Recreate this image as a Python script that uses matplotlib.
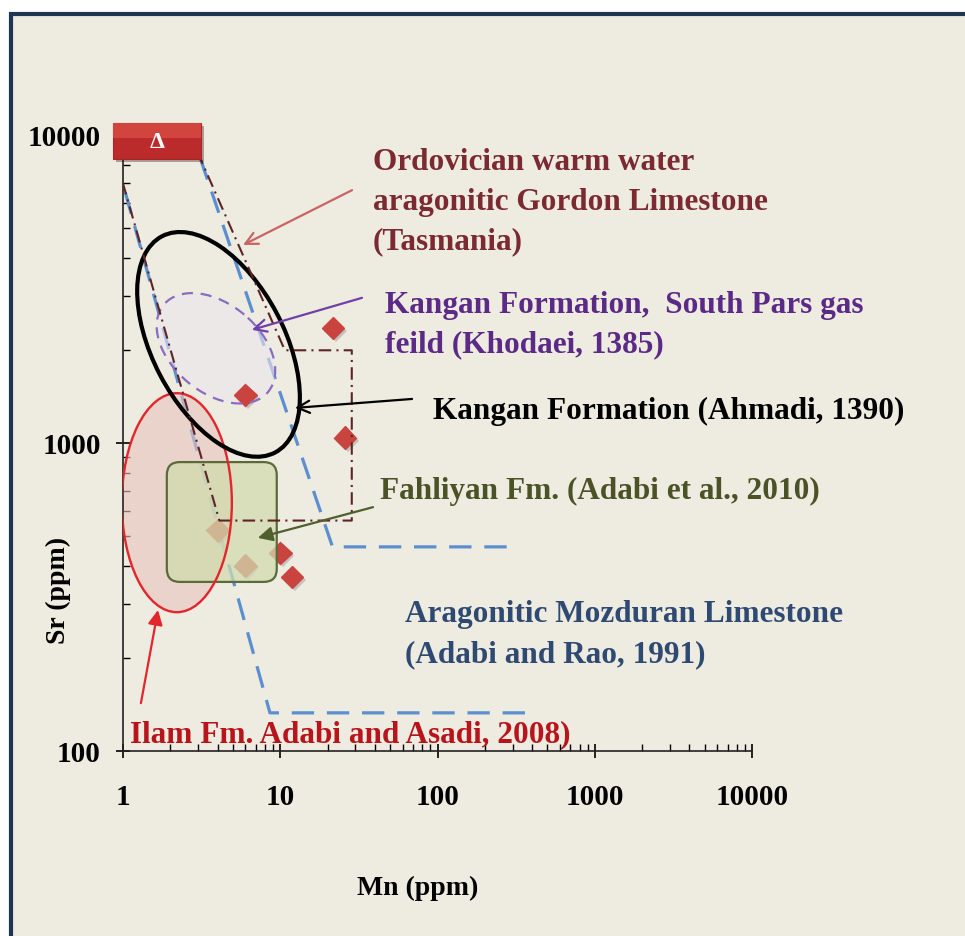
import matplotlib
matplotlib.use('Agg')
import matplotlib.pyplot as plt
import matplotlib.patheffects as pe
from matplotlib.patches import Ellipse, FancyBboxPatch, Rectangle
from matplotlib.transforms import ScaledTranslation

# Kangan Formation samples (this study)
mn_ppm = [21.6, 6.0, 25.8, 4.0, 6.0, 10.0, 11.9]
sr_ppm = [2360, 1430, 1040, 520, 400, 440, 367]

# Aragonitic Mozduran Limestone field, two open boundaries
mozduran_left_mn = [0.9, 8.6, 420]
mozduran_left_sr = [8400, 133, 133]
mozduran_right_mn = [3.1, 21.5, 300]
mozduran_right_sr = [8400, 460, 460]

# Ordovician Gordon Limestone field
gordon_mn = [0.9, 4.1, 28.5, 28.5, 10.7, 3.1]
gordon_sr = [8400, 560, 560, 2000, 2000, 8400]

# Fahliyan Fm. box (min, max)
fahliyan_mn = [1.9, 9.5]
fahliyan_sr = [354, 867]

# ellipse centres (Mn, Sr)
ilam_centre = (2.2, 640)
khodaei_centre = (3.9, 2030)
ahmadi_centre = (4.05, 2090)

x_ticks = [1, 10, 100, 1000, 10000]
y_ticks = [100, 1000, 10000]

bg = '#eeebe1'
blue = '#5b8fd0'
brown = '#5e2424'

plt.rcParams['font.family'] = ['Liberation Serif', 'DejaVu Serif']
plt.rcParams['font.weight'] = 'bold'

fig = plt.figure(figsize=(9.65, 9.36), dpi=100, facecolor='white')
# panel background with navy frame
fig.patches.append(Rectangle((11 / 965, -0.1), 1.2, (936 - 14.5) / 936 + 0.1,
                             transform=fig.transFigure, facecolor=bg,
                             edgecolor='#1f3552', linewidth=3, zorder=-5))

ax = fig.add_axes([123 / 965, (936 - 751) / 936, 629 / 965, 616 / 936])
ax.set_facecolor('none')
ax.set_xscale('log')
ax.set_yscale('log')
ax.set_xlim(1, 10000)
ax.set_ylim(100, 10000)

for s in ['top', 'right']:
    ax.spines[s].set_visible(False)
for s in ['left', 'bottom']:
    ax.spines[s].set_linewidth(1.2)
    ax.spines[s].set_color('#222222')

ax.set_xticks(x_ticks)
ax.set_xticklabels([str(v) for v in x_ticks])
ax.set_yticks(y_ticks)
ax.set_yticklabels([str(v) for v in y_ticks])
ax.tick_params(which='major', direction='inout', length=10, width=1.2, labelsize=21)
ax.tick_params(which='minor', direction='in', length=5, width=1)
ax.tick_params(axis='x', which='major', pad=19)
ax.tick_params(axis='y', which='major', pad=11)
for lab in ax.get_xticklabels() + ax.get_yticklabels():
    lab.set_fontweight('bold')

fig.text(418 / 965, 1 - 888 / 936, 'Mn (ppm)', ha='center', va='center', fontsize=20, fontweight='bold')
fig.text(58 / 965, 1 - 590 / 936, 'Sr (ppm)', ha='center', va='center', fontsize=20,
         fontweight='bold', rotation=90)


def px_ellipse(centre, w, h, angle, **kw):
    tr = ScaledTranslation(centre[0], centre[1], ax.transData)
    e = Ellipse((0, 0), w, h, angle=angle, transform=tr, **kw)
    ax.add_patch(e)
    return e


# Mozduran field
ax.plot(mozduran_left_mn, mozduran_left_sr, color=blue, lw=2.3, ls=(0, (7, 4)), zorder=2)
ax.plot(mozduran_right_mn, mozduran_right_sr, color=blue, lw=2.3, ls=(0, (7, 4)), zorder=2)

# Ilam ellipse fill
px_ellipse(ilam_centre, 110, 219, 0, facecolor='#e6c3bc', alpha=0.6, edgecolor='none', zorder=2.5)
# Khodaei ellipse fill
px_ellipse(khodaei_centre, 136, 88, 140, facecolor='#ece6ee', alpha=0.6, edgecolor='none', zorder=2.5)

# samples
ax.plot(mn_ppm, sr_ppm, ls='none', marker='D', ms=11.5, color='#c9443f', mec='#c9443f', zorder=3,
        path_effects=[pe.SimplePatchShadow(offset=(2, -2), shadow_rgbFace='#777777', alpha=0.35), pe.Normal()])

# Fahliyan box
(x0, y0), (x1, y1) = ax.transData.transform([(fahliyan_mn[0], fahliyan_sr[0]),
                                             (fahliyan_mn[1], fahliyan_sr[1])])
r = 13
ax.add_patch(FancyBboxPatch((r, r), x1 - x0 - 2 * r, y1 - y0 - 2 * r,
                            boxstyle=f'round,pad={r},rounding_size={r}',
                            transform=ScaledTranslation(fahliyan_mn[0], fahliyan_sr[0], ax.transData),
                            facecolor='#d2dcae', alpha=0.75, edgecolor='none', zorder=4))
ax.add_patch(FancyBboxPatch((r, r), x1 - x0 - 2 * r, y1 - y0 - 2 * r,
                            boxstyle=f'round,pad={r},rounding_size={r}',
                            transform=ScaledTranslation(fahliyan_mn[0], fahliyan_sr[0], ax.transData),
                            facecolor='none', edgecolor='#5a6a3a', lw=1.6, zorder=4.5))

# outlines
px_ellipse(ilam_centre, 110, 219, 0, facecolor='none', edgecolor='#e3262b', lw=1.7, zorder=5)
px_ellipse(khodaei_centre, 136, 88, 140, facecolor='none', edgecolor='#8a6cc0', lw=1.6,
           ls=(0, (5, 3.5)), zorder=5)
px_ellipse(ahmadi_centre, 244, 132, 117.6, facecolor='none', edgecolor='black', lw=3, zorder=5)
ax.plot(gordon_mn, gordon_sr, color=brown, lw=1.5, ls=(0, (6, 2.5, 1, 2.5)), zorder=5)

# Δ badge
badge_kw = dict(transform=ax.transAxes, clip_on=False, zorder=10)
ax.add_patch(Rectangle((-0.0159, 0.961), 0.1399, 0.0585, facecolor='#bb2b2b', edgecolor='#a82626', lw=0.8,
                       path_effects=[pe.SimplePatchShadow(offset=(2, -2), alpha=0.35), pe.Normal()], **badge_kw))
ax.add_patch(Rectangle((-0.0159, 0.995), 0.1399, 0.0245, facecolor='#d2453f', edgecolor='none', **badge_kw))
ax.text(0.054, 0.988, 'Δ', transform=ax.transAxes, color='white', fontsize=17, fontweight='bold',
        ha='center', va='center', zorder=11, clip_on=False)

# arrows
arrows = [
    ((5.8, 4395), (28.6, 6620), '#c86464', '->'),
    ((6.6, 2330), (33.1, 2960), '#7040a8', '->'),
    ((12.4, 1300), (68.9, 1390), 'black', '->'),
    ((7.2, 492), (38.9, 619), '#4f5f2e', '-|>'),
    ((1.67, 287), (1.30, 143), '#e3262b', '-|>'),
]
for head, tail, c, style in arrows:
    ax.annotate('', xy=head, xytext=tail,
                arrowprops=dict(arrowstyle=style, color=c, lw=1.6, mutation_scale=22,
                                shrinkA=0, shrinkB=0), zorder=6)

# labels
labels = [
    (0.397, 0.955, 'Ordovician warm water', '#7a2a30'),
    (0.397, 0.891, 'aragonitic Gordon Limestone', '#7a2a30'),
    (0.397, 0.826, '(Tasmania)', '#7a2a30'),
    (0.4165, 0.724, 'Kangan Formation,  South Pars gas', '#5b2a86'),
    (0.4165, 0.659, 'feild (Khodaei, 1385)', '#5b2a86'),
    (0.493, 0.552, 'Kangan Formation (Ahmadi, 1390)', 'black'),
    (0.4086, 0.422, 'Fahliyan Fm. (Adabi et al., 2010)', '#4a5226'),
    (0.448, 0.222, 'Aragonitic Mozduran Limestone', '#2f4a72'),
    (0.448, 0.156, '(Adabi and Rao, 1991)', '#2f4a72'),
    (0.011, 0.026, 'Ilam Fm. Adabi and Asadi, 2008)', '#b8141b'),
]
for fx, fy, s, c in labels:
    ax.text(fx, fy, s, transform=ax.transAxes, color=c, fontsize=22.5, fontweight='bold',
            ha='left', va='center', zorder=7, clip_on=False)

fig.savefig('out.png', dpi=100, facecolor=fig.get_facecolor())
